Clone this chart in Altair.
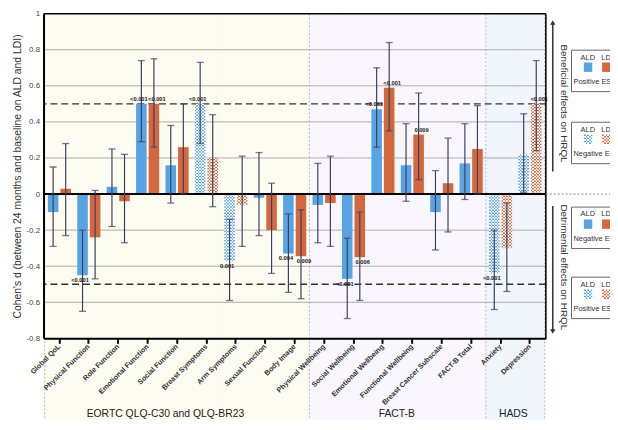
import altair as alt
import pandas as pd

# ---------------- data ----------------
categories = ["Global QoL", "Physical Function", "Role Function", "Emotional Function",
              "Social Function", "Breast Symptoms", "Arm Symptoms", "Sexual Function",
              "Body Image", "Physical Wellbeing", "Social Wellbeing", "Emotional Wellbeing",
              "Functional Wellbeing", "Breast Cancer Subscale", "FACT-B Total",
              "Anxiety", "Depression"]
instrument = ["EORTC"] * 9 + ["FACT-B"] * 6 + ["HADS"] * 2
symptom_scale = [False, False, False, False, False, True, True, False, False,
                 False, False, False, False, False, False, True, True]

ald_es = [-0.10, -0.45, 0.04, 0.50, 0.16, 0.50, -0.37, -0.02, -0.33,
          -0.06, -0.47, 0.47, 0.16, -0.10, 0.17, -0.44, 0.22]
ald_lo = [-0.29, -0.65, -0.18, 0.29, -0.05, 0.28, -0.59, -0.23, -0.545,
          -0.27, -0.69, 0.26, -0.04, -0.31, -0.03, -0.64, 0.01]
ald_hi = [0.15, -0.20, 0.25, 0.74, 0.38, 0.73, -0.14, 0.23, -0.11,
          0.17, -0.245, 0.70, 0.39, 0.13, 0.39, -0.20, 0.445]
ald_p = ["", "<0.001", "", "<0.001", "", "<0.001", "0.001", "", "0.004",
         "", "<0.001", "<0.001", "", "", "", "<0.001", ""]

ldi_es = [0.03, -0.24, -0.04, 0.50, 0.26, 0.20, -0.06, -0.20, -0.345,
          -0.05, -0.35, 0.59, 0.33, 0.06, 0.25, -0.30, 0.50]
ldi_lo = [-0.23, -0.47, -0.27, 0.26, 0.00, -0.07, -0.29, -0.44, -0.58,
          -0.29, -0.59, 0.35, 0.08, -0.21, 0.00, -0.54, 0.24]
ldi_hi = [0.28, 0.02, 0.22, 0.75, 0.50, 0.44, 0.21, 0.06, -0.087,
          0.21, -0.10, 0.84, 0.56, 0.31, 0.49, -0.05, 0.74]
ldi_p = ["", "", "", "<0.001", "", "", "", "", "0.009",
         "", "0.006", "<0.001", "0.009", "", "", "", "<0.001"]

y_ticks = [-0.8, -0.6, -0.4, -0.2, 0, 0.2, 0.4, 0.6, 0.8, 1]
grid_vals = [-0.6, -0.4, -0.2, 0.2, 0.4, 0.6, 0.8]
threshold_vals = [0.5, -0.5]
instrument_names = ["EORTC", "FACT-B", "HADS"]
section_titles = ["EORTC QLQ-C30 and QLQ-BR23", "FACT-B", "HADS"]
legend_caption = ["Positive ES", "Negative ES", "Negative ES", "Positive ES"]
legend_pattern = ["solid", "check", "solid", "check"]

rows = []
for i, c in enumerate(categories):
    pat = "check" if symptom_scale[i] else "solid"
    rows.append(dict(cat=c, inst=instrument[i], tool="ALD", es=ald_es[i], lo=ald_lo[i],
                     hi=ald_hi[i], p=ald_p[i], pattern=pat))
    rows.append(dict(cat=c, inst=instrument[i], tool="LDI", es=ldi_es[i], lo=ldi_lo[i],
                     hi=ldi_hi[i], p=ldi_p[i], pattern=pat))
df = pd.DataFrame(rows)
cat_df = pd.DataFrame({"cat": categories, "inst": instrument})

# ---------------- styles ----------------
BLUE = "#58a3e3"
ORANGE = "#d3683f"
ERR = "#3c3f63"
FONT = "Liberation Sans"
W, H = 509, 329


def stripes(c1, c2, n):
    stops = []
    for k in range(n):
        col = c1 if k % 2 == 0 else c2
        stops.append({"offset": k / n, "color": col})
        stops.append({"offset": (k + 1) / n, "color": col})
    return {"gradient": "linear", "x1": 0, "y1": 0, "x2": 1, "y2": 0, "stops": stops}


xs = alt.Scale(domain=categories, paddingInner=0, paddingOuter=0.04)
ys = alt.Scale(domain=[-0.8, 1], nice=False, zero=False)
xo = alt.XOffset("tool:N", scale=alt.Scale(domain=["ALD", "LDI"], paddingInner=0.16, paddingOuter=0.25))

x_axis = alt.Axis(title=None, labelAngle=-45, labelAlign="right", labelBaseline="middle",
                  labelFontSize=7.3, labelFontWeight="bold", labelColor="#333", labelFont=FONT,
                  labelPadding=2, labelOverlap=False, labelFlush=False,
                  tickColor="black", tickWidth=2, tickSize=5,
                  domainColor="black", domainWidth=2, grid=False, zindex=1)
y_axis = alt.Axis(values=y_ticks, labelExpr="'' + datum.value",
                  title="Cohen's d (between 24 months and baseline on ALD and LDI)",
                  titleFontSize=10.5, titleFontWeight="normal", titleColor="#333", titleFont=FONT,
                  titlePadding=4, labelFontSize=8, labelColor="#444", labelFont=FONT, labelPadding=4,
                  ticks=False, domainColor="black", domainWidth=2, grid=False, zindex=1)


def X(**kw):
    return alt.X("cat:N", scale=xs, axis=x_axis, **kw)


def Y(f):
    return alt.Y(f, type="quantitative", scale=ys, axis=y_axis)


# backgrounds per instrument (extend below the plot)
bg_scale = alt.Scale(domain=instrument_names, range=["#fdfcf0", "#f9f7fd", "#f1f5fc"])
bg = alt.Chart(cat_df).mark_rect(strokeWidth=0.6).encode(
    x=X(), y=alt.value(0), y2=alt.value(411),
    fill=alt.Fill("inst:N", scale=bg_scale, legend=None),
    stroke=alt.Stroke("inst:N", scale=bg_scale, legend=None),
)

sep_start = alt.Chart(pd.DataFrame({"cat": ["Global QoL", "Physical Wellbeing", "Anxiety"]})).mark_rule(
    color="#b8b8cc", strokeWidth=1, strokeDash=[2, 2]).encode(
    x=X(bandPosition=0), y=alt.value(0), y2=alt.value(411))
sep_end = alt.Chart(pd.DataFrame({"cat": ["Depression"]})).mark_rule(
    color="#b8b8cc", strokeWidth=1, strokeDash=[2, 2]).encode(
    x=X(bandPosition=1), y=alt.value(0), y2=alt.value(411))

grid = alt.Chart(pd.DataFrame({"v": grid_vals})).mark_rule(color="#ababab", strokeWidth=1).encode(y=Y("v"))
dashed = alt.Chart(pd.DataFrame({"v": threshold_vals})).mark_rule(
    color="#333", strokeWidth=1.3, strokeDash=[7, 4]).encode(y=Y("v"))

base = alt.Chart(df)
solid = base.transform_filter("datum.pattern == 'solid'").mark_bar().encode(
    x=X(), xOffset=xo, y=Y("es"),
    fill=alt.condition("datum.tool == 'ALD'", alt.value(BLUE), alt.value(ORANGE)))

D = 0.0085
check_base = base.transform_filter("datum.pattern == 'check'").transform_calculate(
    n=f"ceil(abs(datum.es) / {D})").transform_calculate(
    seq="sequence(0, datum.n)").transform_flatten(["seq"]).transform_calculate(
    s0=f"(datum.es < 0 ? -1 : 1) * datum.seq * {D}",
    s1=f"(datum.es < 0 ? -1 : 1) * min((datum.seq + 1) * {D}, abs(datum.es))")

check_layers = []
for tool, col in [("ALD", BLUE), ("LDI", ORANGE)]:
    check_layers.append(
        check_base.transform_filter(f"datum.tool == '{tool}'").mark_bar().encode(
            x=X(), xOffset=xo, y=Y("s0"), y2="s1",
            fill=alt.condition("datum.seq % 2 == 0", alt.value(stripes(col, "white", 7)),
                               alt.value(stripes("white", col, 7)))))

zero = alt.Chart(pd.DataFrame({"v": [0]})).mark_rule(color="black", strokeWidth=2).encode(y=Y("v"))

err = base.mark_rule(color=ERR, strokeWidth=1.2).encode(x=X(), xOffset=xo, y=Y("lo"), y2="hi")
caps = base.transform_fold(["lo", "hi"], as_=["end", "val"]).mark_tick(
    color=ERR, size=7, thickness=1.3).encode(x=X(), xOffset=xo, y=Y("val"))

label_layers = []
for tool, shift in [("ALD", -2.5), ("LDI", 3)]:
    label_layers.append(base.transform_filter(
        f"datum.p != '' && datum.es > 0 && datum.tool == '{tool}'").mark_text(
        baseline="bottom", dy=-2, dx=shift, fontSize=5.8, fontWeight="bold", color="#222", font=FONT).encode(
        x=X(), xOffset=xo, y=Y("es"), text="p:N"))
    label_layers.append(base.transform_filter(
        f"datum.p != '' && datum.es < 0 && datum.tool == '{tool}'").mark_text(
        baseline="top", dy=2, dx=shift, fontSize=5.8, fontWeight="bold", color="#222", font=FONT).encode(
        x=X(), xOffset=xo, y=Y("es"), text="p:N"))

one = pd.DataFrame({"k": [0]})
frame_top = alt.Chart(one).mark_rule(color="black", strokeWidth=1.5).encode(
    x=alt.value(0), x2=alt.value(W), y=alt.value(0))
frame_right = alt.Chart(one).mark_rule(color="black", strokeWidth=1.5).encode(
    x=alt.value(W), y=alt.value(0), y2=alt.value(H))

# right-hand annotations
zero_ext = alt.Chart(pd.DataFrame({"v": [0]})).mark_rule(
    color="#888", strokeWidth=1, strokeDash=[2, 2]).encode(y=Y("v"), x=alt.value(W), x2=alt.value(580))
arrow1 = alt.Chart(one).mark_rule(color="#333", strokeWidth=1.5).encode(
    x=alt.value(516), y=alt.value(9), y2=alt.value(160))
arrow2 = alt.Chart(one).mark_rule(color="#333", strokeWidth=1.5).encode(
    x=alt.value(516), y=alt.value(195), y2=alt.value(322))
head1 = alt.Chart(one).mark_point(shape="triangle-up", filled=True, size=28, color="#333", opacity=1).encode(
    x=alt.value(516), y=alt.value(9))
head2 = alt.Chart(one).mark_point(shape="triangle-down", filled=True, size=28, color="#333", opacity=1).encode(
    x=alt.value(516), y=alt.value(322))
txt1 = alt.Chart(one).mark_text(text="Beneficial effects on HRQL", angle=90, fontSize=10,
                                color="#333", font=FONT).encode(x=alt.value(527), y=alt.value(91))
txt2 = alt.Chart(one).mark_text(text="Detrimental effects on HRQL", angle=90, fontSize=10,
                                color="#333", font=FONT).encode(x=alt.value(527), y=alt.value(257))

legend_df = pd.DataFrame({"caption": legend_caption, "pattern": legend_pattern,
                          "top": [37, 110, 196, 267]})
leg = alt.Chart(legend_df)
PY = lambda f: alt.Y(f, type="quantitative", scale=None, axis=None)
leg_box = leg.transform_calculate(b="datum.top + 42").mark_rect(
    fill="white", stroke="#666", strokeWidth=1).encode(
    x=alt.value(535), x2=alt.value(640), y=PY("top"), y2="b")
leg_ald = leg.transform_calculate(t="datum.top + 7.5").mark_text(
    text="ALD", fontSize=7.5, color="#333", font=FONT).encode(x=alt.value(551.5), y=PY("t"))
leg_ldi = leg.transform_calculate(t="datum.top + 7.5").mark_text(
    text="LDI", fontSize=7.5, color="#333", font=FONT).encode(x=alt.value(571), y=PY("t"))
leg_cap = leg.transform_calculate(t="datum.top + 32").mark_text(
    align="left", fontSize=7.5, color="#333", font=FONT).encode(
    x=alt.value(537), y=PY("t"), text="caption:N")
leg_layers = [leg_box, leg_ald, leg_ldi, leg_cap]
for x0, x1, col in [(547.5, 556, BLUE), (566, 575, ORANGE)]:
    leg_layers.append(leg.transform_filter("datum.pattern == 'solid'").transform_calculate(
        s0="datum.top + 12.5", s1="datum.top + 22").mark_rect(fill=col).encode(
        x=alt.value(x0), x2=alt.value(x1), y=PY("s0"), y2="s1"))
    leg_layers.append(leg.transform_filter("datum.pattern == 'check'").transform_calculate(
        seq="sequence(0, 6)").transform_flatten(["seq"]).transform_calculate(
        s0="datum.top + 12.5 + datum.seq * 9.5 / 6",
        s1="datum.top + 12.5 + (datum.seq + 1) * 9.5 / 6").mark_rect().encode(
        x=alt.value(x0), x2=alt.value(x1), y=PY("s0"), y2="s1",
        fill=alt.condition("datum.seq % 2 == 0", alt.value(stripes(col, "white", 5)),
                           alt.value(stripes("white", col, 5)))))

sec_df = pd.DataFrame({"title": section_titles, "px": [123.5, 358, 476]})
sections = alt.Chart(sec_df).mark_text(
    fontSize=10.5, color="#222", font=FONT).encode(
    x=alt.X("px:Q", scale=None, axis=None), y=alt.value(406), text="title:N")

chart = alt.layer(
    bg, sep_start, sep_end, grid, dashed, solid, *check_layers, zero, err, caps,
    *label_layers, frame_top, frame_right, zero_ext, arrow1, arrow2, head1, head2,
    txt1, txt2, *leg_layers, sections
).resolve_scale(fill="independent", stroke="independent").properties(
    width=W, height=H,
    autosize=alt.AutoSizeParams(type="none"),
    padding={"left": 36, "top": 3, "right": 65, "bottom": 82},
).configure_view(strokeWidth=0).configure(font=FONT, background="white")

chart.save("out.html", embed_options={"renderer": "svg", "actions": False})
